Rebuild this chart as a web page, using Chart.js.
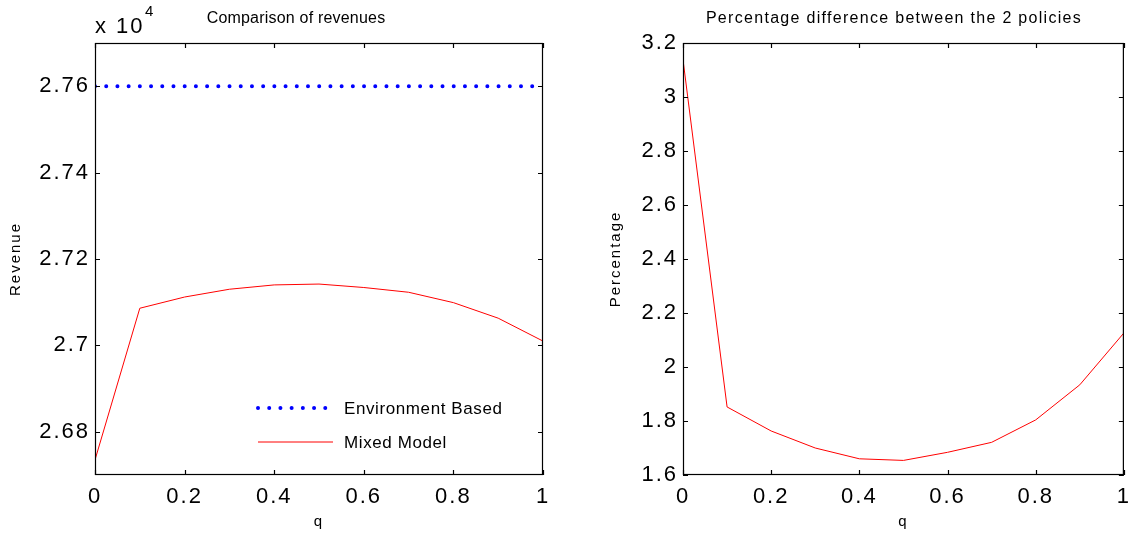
<!DOCTYPE html>
<html>
<head>
<meta charset="utf-8">
<script src="https://cdn.jsdelivr.net/npm/chart.js@4.4.0/dist/chart.umd.min.js"></script>
<style>
  body { margin: 0; background: #fff; }
  .box { position: absolute; top: 0; height: 537px; }
  #leftBox { left: 0; width: 560px; }
  #rightBox { left: 600px; width: 539px; }
</style>
</head>
<body>
<div class="box" id="leftBox"><canvas id="revenueChart"></canvas></div>
<div class="box" id="rightBox"><canvas id="percentChart"></canvas></div>
<script>
// q values shared by both panels
const qValues = [0, 0.1, 0.2, 0.3, 0.4, 0.5, 0.6, 0.7, 0.8, 0.9, 1];
const qTicks = [0, 0.2, 0.4, 0.6, 0.8, 1];

// left panel: revenues
const envRevenue = [27600, 27600, 27600, 27600, 27600, 27600, 27600, 27600, 27600, 27600, 27600];
const mixedRevenue = [26735, 27086, 27112, 27130, 27140, 27142, 27134, 27123, 27099, 27063, 27010];
const revenueTicks = [26800, 27000, 27200, 27400, 27600];

// right panel: percentage difference
const percentDiff = [3.138, 1.852, 1.763, 1.700, 1.660, 1.654, 1.684, 1.721, 1.804, 1.934, 2.126];
const percentTicks = [1.6, 1.8, 2.0, 2.2, 2.4, 2.6, 2.8, 3.0, 3.2];

const FONT = 'Liberation Sans, Arial, sans-serif';

function toPoints(ys) {
    return qValues.map((q, i) => ({ x: q, y: ys[i] }));
}

function trim(v) {
    return String(+v.toFixed(4));
}

// wider glyph spacing, closer to the original rendering
const spacingPlugin = {
    id: 'spacing',
    beforeDraw(chart) {
        chart.ctx.letterSpacing = '2px';
    }
};

// frame with inward ticks on all sides, like the original plot
const framePlugin = {
    id: 'frame',
    afterDraw(chart) {
        const ctx = chart.ctx;
        const a = chart.chartArea;
        const len = 5;
        ctx.save();
        ctx.strokeStyle = '#000';
        ctx.lineWidth = 1.2;
        ctx.strokeRect(a.left + 0.5, a.top + 0.5, a.right - a.left - 1, a.bottom - a.top - 1);
        ctx.beginPath();
        chart.scales.x.ticks.forEach(t => {
            const px = Math.round(chart.scales.x.getPixelForValue(t.value)) + 0.5;
            ctx.moveTo(px, a.bottom); ctx.lineTo(px, a.bottom - len);
            ctx.moveTo(px, a.top); ctx.lineTo(px, a.top + len);
        });
        chart.scales.y.ticks.forEach(t => {
            const py = Math.round(chart.scales.y.getPixelForValue(t.value)) + 0.5;
            ctx.moveTo(a.left, py); ctx.lineTo(a.left + len, py);
            ctx.moveTo(a.right, py); ctx.lineTo(a.right - len, py);
        });
        ctx.stroke();

        const o = chart.options.plugins.frame || {};
        ctx.fillStyle = '#000';
        ctx.textAlign = 'center';
        ctx.textBaseline = 'alphabetic';
        ctx.font = '16px ' + FONT;
        ctx.letterSpacing = o.titleSpacing || '0px';
        if (o.title) ctx.fillText(o.title, o.titleX, 23);
        if (o.exponent) {
            ctx.textAlign = 'left';
            ctx.letterSpacing = '2px';
            ctx.font = '22px ' + FONT;
            ctx.fillText('x 10', a.left, 33);
            ctx.font = '15px ' + FONT;
            ctx.fillText('4', a.left + 50, 16);
        }
        ctx.restore();
    }
};

// legend drawn inside the plot area, bottom right
const insideLegend = {
    id: 'insideLegend',
    afterDraw(chart) {
        if (!chart.options.plugins.insideLegend) return;
        const ctx = chart.ctx;
        const a = chart.chartArea;
        const x0 = a.left + 163, x1 = a.left + 238, tx = a.left + 249;
        const rows = [a.bottom - 67, a.bottom - 33];
        ctx.save();
        chart.data.datasets.forEach((ds, i) => {
            const y = rows[i];
            ctx.beginPath();
            ctx.strokeStyle = ds.borderColor;
            ctx.lineWidth = ds.borderWidth;
            ctx.lineCap = ds.borderCapStyle || 'butt';
            ctx.setLineDash(ds.borderDash || []);
            ctx.moveTo(x0, y);
            ctx.lineTo(x1, y);
            ctx.stroke();
            ctx.setLineDash([]);
            ctx.fillStyle = '#000';
            ctx.font = '17px ' + FONT;
            ctx.letterSpacing = '0.6px';
            ctx.textBaseline = 'middle';
            ctx.fillText(ds.label, tx, y + 1);
        });
        ctx.restore();
    }
};

function baseOptions(yTicks, yMin, yMax, yTitle, yWidth, rightPad, fmt) {
    return {
        responsive: true,
        maintainAspectRatio: false,
        animation: false,
        layout: { padding: { top: 43, right: rightPad, left: 0, bottom: 0 } },
        plugins: { legend: { display: false }, tooltip: { enabled: false } },
        scales: {
            x: {
                type: 'linear',
                min: 0,
                max: 1,
                grid: { display: false, drawTicks: false },
                border: { display: false },
                afterBuildTicks: s => { s.ticks = qTicks.map(v => ({ value: v })); },
                afterFit: s => { s.height = 62; },
                ticks: {
                    padding: 9,
                    color: '#000',
                    font: { family: FONT, size: 22 },
                    callback: v => trim(v)
                },
                title: {
                    display: true,
                    text: 'q',
                    color: '#000',
                    font: { family: FONT, size: 15 },
                    padding: { top: 0, bottom: 6 }
                }
            },
            y: {
                type: 'linear',
                min: yMin,
                max: yMax,
                grid: { display: false, drawTicks: false },
                border: { display: false },
                afterBuildTicks: s => { s.ticks = yTicks.map(v => ({ value: v })); },
                afterFit: s => { s.width = yWidth; },
                ticks: {
                    padding: 5,
                    color: '#000',
                    font: { family: FONT, size: 22 },
                    callback: fmt
                },
                title: {
                    display: true,
                    text: yTitle,
                    color: '#000',
                    font: { family: FONT, size: 15 },
                    padding: { top: 7, bottom: 0 }
                }
            }
        }
    };
}

const leftOptions = baseOptions(revenueTicks, 26700, 27700, 'Revenue', 95, 17, v => trim(v / 10000));
leftOptions.plugins.frame = { title: 'Comparison of revenues', titleX: 296, titleSpacing: '0.2px', exponent: true };
leftOptions.plugins.insideLegend = true;

new Chart(document.getElementById('revenueChart'), {
    type: 'line',
    data: {
        datasets: [
            {
                label: 'Environment Based',
                data: toPoints(envRevenue),
                borderColor: '#0000ff',
                borderWidth: 4,
                borderDash: [0.01, 11.2],
                borderCapStyle: 'round',
                pointRadius: 0,
                tension: 0
            },
            {
                label: 'Mixed Model',
                data: toPoints(mixedRevenue),
                borderColor: '#ff0000',
                borderWidth: 1,
                pointRadius: 0,
                tension: 0
            }
        ]
    },
    options: leftOptions,
    plugins: [spacingPlugin, framePlugin, insideLegend]
});

const rightOptions = baseOptions(percentTicks, 1.6, 3.2, 'Percentage', 83, 9, v => trim(v));
rightOptions.plugins.frame = { title: 'Percentage difference between the 2 policies', titleX: 294, titleSpacing: '1.3px' };

new Chart(document.getElementById('percentChart'), {
    type: 'line',
    data: {
        datasets: [{
            label: 'Percentage',
            data: toPoints(percentDiff),
            borderColor: '#ff0000',
            borderWidth: 1,
            pointRadius: 0,
            tension: 0
        }]
    },
    options: rightOptions,
    plugins: [spacingPlugin, framePlugin]
});
</script>
</body>
</html>
